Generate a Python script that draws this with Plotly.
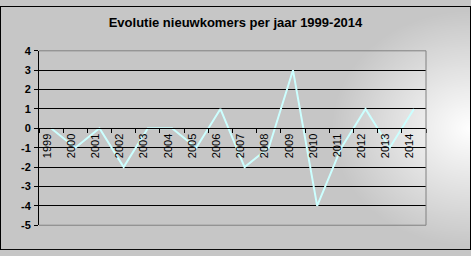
import base64, struct, zlib
import numpy as np
import plotly.graph_objects as go

# ---- data ----
years = ["1999", "2000", "2001", "2002", "2003", "2004", "2005", "2006",
         "2007", "2008", "2009", "2010", "2011", "2012", "2013", "2014"]
values = [0, -1, 0, -2, 0, 0, -1, 1, -2, -1, 3, -4, -1, 1, -1, 1]
y_tickvals = [-5, -4, -3, -2, -1, 0, 1, 2, 3, 4]
y_ticktext = ["-5", "-4", "-3", "-2", "-1", "0", "1", "2", "3", "4"]
title_text = "Evolutie nieuwkomers per jaar 1999-2014"

W, H = 471, 256

# ---- gradient background (decoration) ----
yy, xx = np.mgrid[0:H, 0:W].astype(float)
dx = (W - 1 - xx) / 140.0
dy = np.abs(yy - 128) / 125.0
t = np.clip(np.sqrt(dx ** 2 + dy ** 2), 0, 1)
edge, centre = 198.0, 255.0
img = centre - (centre - edge) * t
img = img.astype(np.uint8)
img[0, :] = 0
img[-1, :] = 0
img[:, 0] = 0
img[:, -1] = 0


def png_gray(arr):
    h, w = arr.shape
    raw = b"".join(b"\x00" + arr[r].tobytes() for r in range(h))

    def chunk(tag, data):
        c = struct.pack(">I", len(data)) + tag + data
        return c + struct.pack(">I", zlib.crc32(tag + data) & 0xFFFFFFFF)

    return (b"\x89PNG\r\n\x1a\n"
            + chunk(b"IHDR", struct.pack(">IIBBBBB", w, h, 8, 0, 0, 0, 0))
            + chunk(b"IDAT", zlib.compress(raw, 9))
            + chunk(b"IEND", b""))


bg_src = "data:image/png;base64," + base64.b64encode(png_gray(img)).decode()

# ---- layout geometry ----
x_dom = [39 / W, 426 / W]
y_dom = [1 - 230 / H, 1 - 47 / H]
ymin, ymax = -5, 4
x_pos = y_dom[0] + (0 - ymin) / (ymax - ymin) * (y_dom[1] - y_dom[0])

fig = go.Figure()
fig.add_trace(go.Scatter(x=years, y=values, mode="lines",
                         line=dict(color="#ccffff", width=2),
                         hoverinfo="skip", showlegend=False))

fig.update_layout(
    width=W, height=H,
    margin=dict(l=0, r=0, t=0, b=0),
    paper_bgcolor="#c6c6c6",
    plot_bgcolor="#c0c0c0",
    title=dict(text=title_text, x=0.5, xanchor="center",
               y=1 - 22 / H, yanchor="middle", yref="container",
               font=dict(family="Arial, Liberation Sans", size=13,
                         color="black", weight="bold")),
    images=[dict(source=bg_src, xref="paper", yref="paper", x=0, y=1,
                 sizex=1, sizey=1, xanchor="left", yanchor="top",
                 sizing="stretch", layer="below")],
    xaxis=dict(domain=x_dom, type="category", range=[-0.5, 15.5],
               anchor="free", position=x_pos,
               showline=True, linecolor="black", linewidth=1,
               ticks="outside", tickson="boundaries", ticklen=4,
               tickcolor="black", tickwidth=1,
               tickangle=-90, ticklabelshift=-4,
               tickfont=dict(family="Arial, Liberation Sans", size=11,
                             color="black"),
               showgrid=False, zeroline=False, fixedrange=True),
    yaxis=dict(domain=y_dom, range=[ymin, ymax],
               tickvals=y_tickvals, ticktext=y_ticktext,
               showgrid=True, gridcolor="black", gridwidth=1,
               zeroline=False, showline=True, linecolor="black",
               linewidth=1, ticks="outside", ticklen=4,
               tickcolor="black", ticklabelstandoff=1,
               tickfont=dict(family="Arial, Liberation Sans", size=11,
                             color="black", weight="bold"),
               fixedrange=True),
    shapes=[
        dict(type="line", xref="x domain", yref="y domain", x0=0, x1=1,
             y0=1, y1=1, line=dict(color="#808080", width=1)),
        dict(type="line", xref="x domain", yref="y domain", x0=1, x1=1,
             y0=0, y1=1, line=dict(color="#808080", width=1)),
        dict(type="line", xref="x domain", yref="y domain", x0=0, x1=1,
             y0=0, y1=0, line=dict(color="#808080", width=1)),
    ],
)

fig.write_html("out.html")
